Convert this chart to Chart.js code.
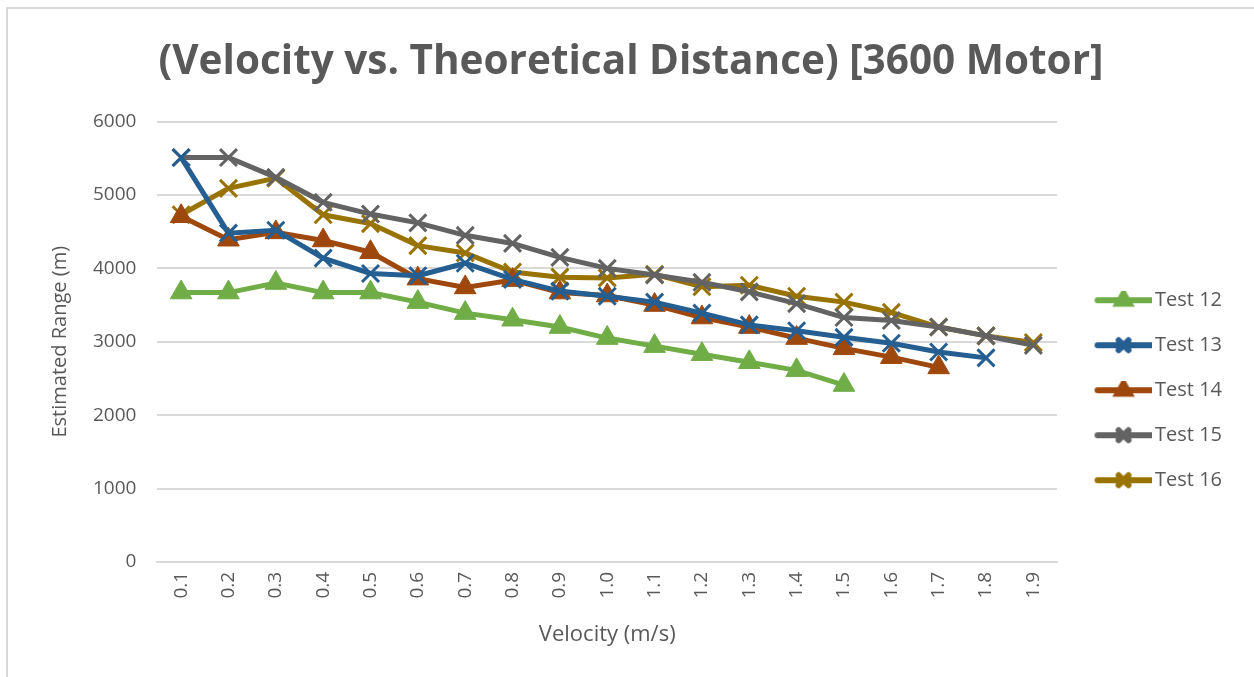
<!DOCTYPE html>
<html>
<head>
<meta charset="utf-8">
<script src="https://cdn.jsdelivr.net/npm/chart.js@4"></script>
<style>
  body { margin: 0; background: #fff; }
  #frame { position: absolute; left: 6px; top: 7px; width: 1260px; height: 690px;
           border-top: 2px solid #d9d9d9; border-left: 2px solid #d9d9d9; }
  #wrap { position: absolute; left: 0; top: 0; width: 1254px; height: 677px; }
</style>
</head>
<body>
<div id="frame"></div>
<div id="wrap"><canvas id="chart"></canvas></div>
<script>
const velocities = ['0.1','0.2','0.3','0.4','0.5','0.6','0.7','0.8','0.9','1.0',
                    '1.1','1.2','1.3','1.4','1.5','1.6','1.7','1.8','1.9'];

const test12 = [3670, 3670, 3800, 3670, 3670, 3540, 3390, 3300, 3200, 3050,
                2940, 2830, 2720, 2610, 2410];
const test13 = [5510, 4480, 4520, 4140, 3930, 3900, 4070, 3850, 3690, 3620,
                3540, 3390, 3230, 3150, 3060, 2980, 2860, 2780];
const test14 = [4710, 4390, 4490, 4380, 4220, 3860, 3740, 3840, 3670, 3630,
                3500, 3330, 3200, 3050, 2910, 2790, 2650];
const test15 = [5510, 5510, 5240, 4900, 4740, 4620, 4450, 4340, 4150, 4000,
                3910, 3810, 3680, 3520, 3330, 3290, 3200, 3080, 2950];
const test16 = [4730, 5090, 5230, 4730, 4610, 4310, 4210, 3950, 3880, 3870,
                3920, 3750, 3770, 3620, 3540, 3400, 3200, 3080, 2990];

const gridColor = '#d9d9d9';
const textColor = '#595959';

// small line + marker picture for the legend (line sits right of centre)
function legendIcon(color, style) {
    const c = document.createElement('canvas');
    c.width = 76; c.height = 18;
    const g = c.getContext('2d');
    g.strokeStyle = color;
    g.fillStyle = color;
    g.lineWidth = 6;
    g.lineCap = 'round';
    g.beginPath();
    g.moveTo(22, 9); g.lineTo(75, 9);
    g.stroke();
    Chart.helpers.drawPoint(g, { pointStyle: style, radius: 7, rotation: 0, borderWidth: 2 }, 48, 9);
    return c;
}

function series(label, data, color, style) {
    const tri = style === 'triangle';
    return {
        label,
        data,
        borderColor: color,
        backgroundColor: color,
        borderWidth: 5,
        pointStyle: style,
        pointRadius: tri ? 12.5 : 12,
        pointBorderWidth: tri ? 1 : 3,
        pointBackgroundColor: color,
        pointBorderColor: color,
        tension: 0,
        legendIcon: legendIcon(color, style)
    };
}

const ctx = document.getElementById('chart');

new Chart(ctx, {
    type: 'line',
    data: {
        labels: velocities,
        datasets: [
            series('Test 12', test12, '#70AD47', 'triangle'),
            series('Test 13', test13, '#255E91', 'crossRot'),
            series('Test 14', test14, '#9E480E', 'triangle'),
            series('Test 15', test15, '#636363', 'crossRot'),
            series('Test 16', test16, '#997300', 'crossRot')
        ]
    },
    options: {
        responsive: true,
        maintainAspectRatio: false,
        animation: false,
        layout: { padding: { top: 38, left: 30, right: 22, bottom: 29 } },
        plugins: {
            title: {
                display: true,
                text: '(Velocity vs. Theoretical Distance) [3600 Motor]',
                color: textColor,
                font: { family: 'Open Sans', size: 40.5, weight: 'bold' },
                padding: { top: 0, bottom: 35 }
            },
            legend: {
                position: 'right',
                title: { display: true, text: '', padding: 40 },
                labels: {
                    color: textColor,
                    font: { family: 'Open Sans', size: 20 },
                    usePointStyle: true,
                    pointStyleWidth: 63,
                    padding: 25,
                    generateLabels: (chart) => chart.data.datasets.map((ds, i) => ({
                        text: ds.label,
                        pointStyle: ds.legendIcon,
                        fontColor: textColor,
                        lineWidth: 0,
                        datasetIndex: i
                    }))
                }
            },
            tooltip: { enabled: false }
        },
        scales: {
            x: {
                offset: true,
                grid: { display: false, drawTicks: false },
                border: { color: gridColor, width: 2 },
                ticks: {
                    color: textColor,
                    font: { family: 'Open Sans', size: 19 },
                    minRotation: 90,
                    maxRotation: 90,
                    padding: 10
                },
                title: {
                    display: true,
                    text: 'Velocity (m/s)',
                    color: textColor,
                    font: { family: 'Open Sans', size: 22 },
                    padding: { top: 13, bottom: 0 }
                }
            },
            y: {
                min: 0,
                max: 6000,
                grid: { color: gridColor, lineWidth: 2, drawTicks: false },
                border: { display: false },
                ticks: {
                    stepSize: 1000,
                    color: textColor,
                    font: { family: 'Open Sans', size: 19 },
                    padding: 21,
                    callback: (v) => String(v)
                },
                title: {
                    display: true,
                    text: 'Estimated Range (m)',
                    color: textColor,
                    font: { family: 'Open Sans', size: 20 },
                    padding: { top: 18, bottom: 0 }
                }
            }
        }
    }
});
</script>
</body>
</html>
